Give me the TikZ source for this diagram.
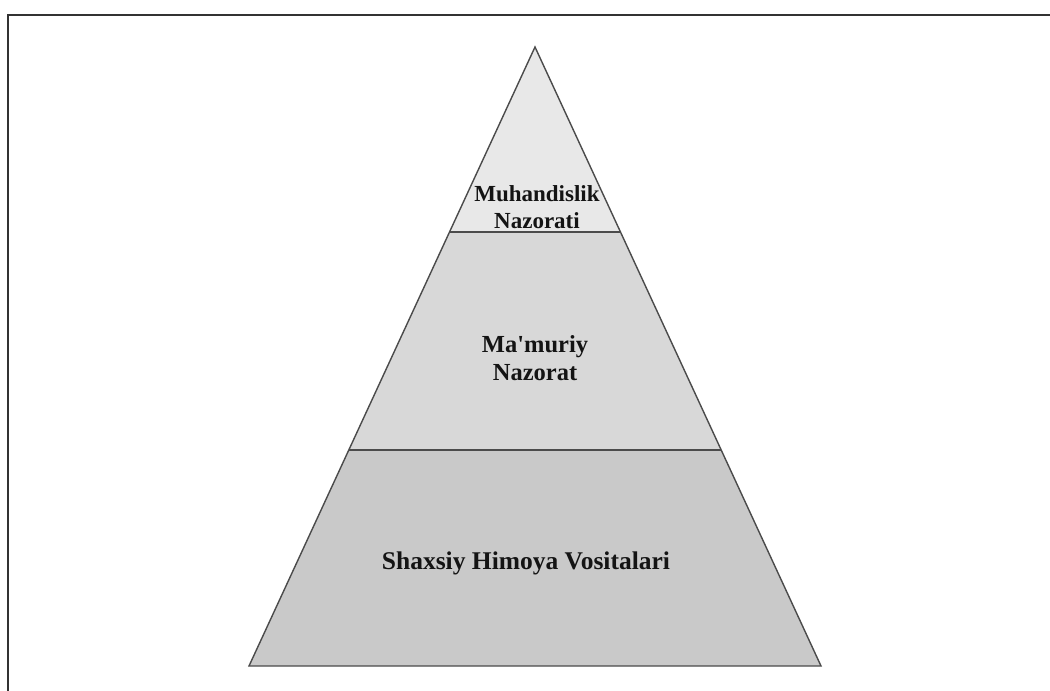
\documentclass[tikz,border=0pt]{standalone}
\usepackage{fontspec}
\setmainfont{Liberation Serif}[Ligatures=TeXOff]
\usetikzlibrary{calc}
\definecolor{tierA}{RGB}{232,232,232}
\definecolor{tierB}{RGB}{216,216,216}
\definecolor{tierC}{RGB}{201,201,201}
\definecolor{edgec}{RGB}{75,75,75}
\definecolor{framec}{RGB}{50,50,50}
\definecolor{txtc}{RGB}{20,20,20}
\tikzset{
  edgeline/.style={draw=edgec, line width=1.4pt, line join=miter},
  divline/.style={draw=edgec, line width=2.2pt},
  framestyle/.style={draw=framec, line width=2pt},
  tierlabel/.style={align=center, font=\bfseries\fontsize{23}{27}\selectfont, text=txtc, inner sep=0pt},
  biglabel/.style={align=center, font=\bfseries\fontsize{25.5}{28}\selectfont, text=txtc, inner sep=0pt}
}
\begin{document}
\begin{tikzpicture}[x=1pt,y=-1pt]
\useasboundingbox (0,0) rectangle (1050,691);
\fill[white] (0,0) rectangle (1050,691);
% frame (top and left edges)
\coordinate (fTR) at (1050,15);
\coordinate (fTL) at (8,15);
\coordinate (fBL) at (8,691);
\draw[framestyle] (fTR) -- (fTL) -- (fBL);
% pyramid corners
\coordinate (apex) at (535,47);
\coordinate (bl) at (249,666);
\coordinate (br) at (821,666);
\coordinate (l1) at ($(apex)!0.2989!(bl)$);
\coordinate (r1) at ($(apex)!0.2989!(br)$);
\coordinate (l2) at ($(apex)!0.6511!(bl)$);
\coordinate (r2) at ($(apex)!0.6511!(br)$);
% tiers
\fill[tierA] (apex) -- (l1) -- (r1) -- cycle;
\fill[tierB] (l1) -- (l2) -- (r2) -- (r1) -- cycle;
\fill[tierC] (l2) -- (bl) -- (br) -- (r2) -- cycle;
\draw[edgeline] (apex) -- (bl) -- (br) -- cycle;
\draw[divline] (l1) -- (r1);
\draw[divline] (l2) -- (r2);
% labels
\node[tierlabel] (eng) at (537,207) {Muhandislik\\Nazorati};
\node[tierlabel, font=\bfseries\fontsize{24.5}{28}\selectfont] (adm) at (535,358) {Ma'muriy\\Nazorat};
\node[biglabel] (ppe) at (526,563) {Shaxsiy Himoya Vositalari};
\end{tikzpicture}
\end{document}
